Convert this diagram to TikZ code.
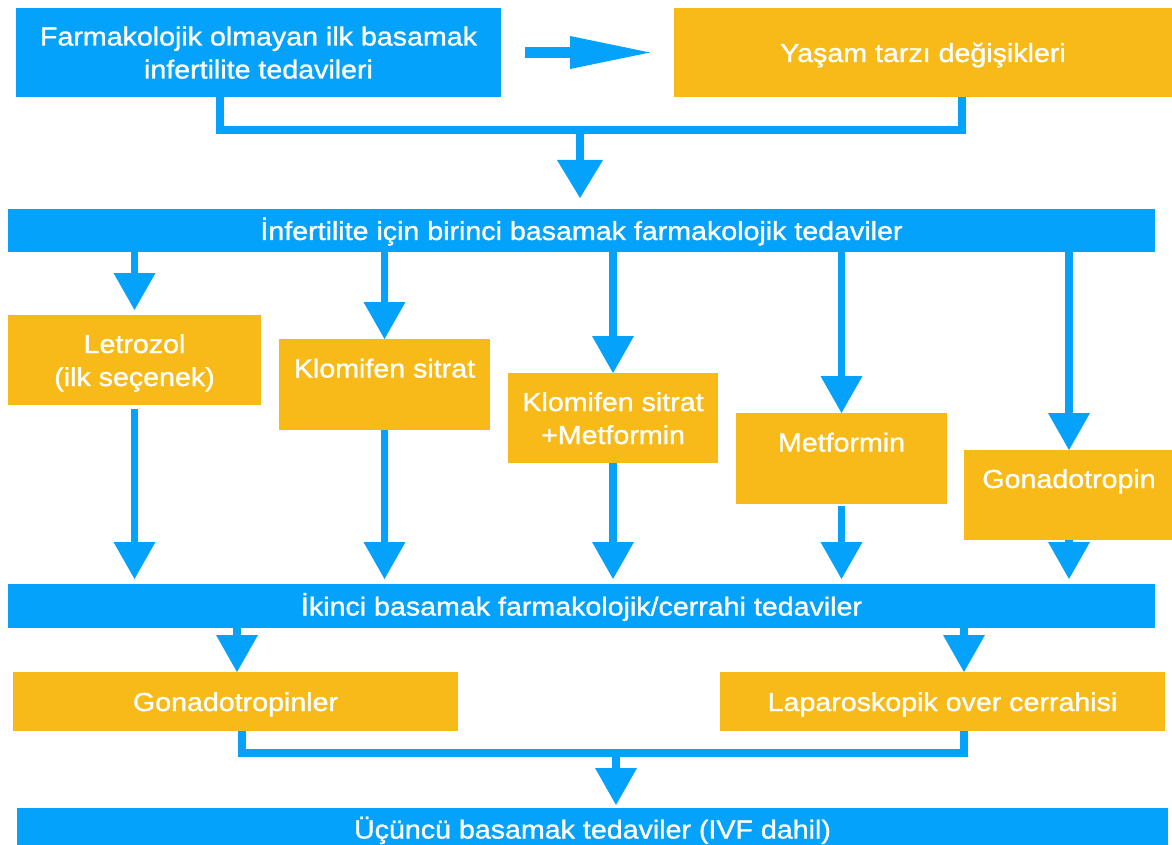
\documentclass[tikz,border=0pt]{standalone}
\usepackage{fontspec}
\setmainfont{Liberation Sans}[FakeStretch=1.1,FakeBold=1.2]
\usetikzlibrary{arrows.meta}
\definecolor{myblue}{RGB}{4,162,250}
\definecolor{myyellow}{RGB}{248,186,24}
\newcommand\mystrut{\rule[-7pt]{0pt}{33pt}}
\begin{document}
\begin{tikzpicture}[x=1pt,y=-1pt,
  box/.style={inner sep=0pt, outer sep=0pt, align=center, text=white, font=\fontsize{26}{33}\selectfont},
  bluebox/.style={box, fill=myblue},
  yellowbox/.style={box, fill=myyellow},
  conn/.style={draw=myblue, line width=7.5pt},
  arr/.style={conn, -{Triangle[width=42pt,length=37pt,line width=0pt]}},
]
\useasboundingbox (0,0) rectangle (1172,845);
\clip (0,0) rectangle (1172,845);
% top row
\node[bluebox, minimum width=485pt, minimum height=89pt] (A) at (258.5,52.5) {\mystrut Farmakolojik olmayan ilk basamak\\\mystrut infertilite tedavileri};
\node[yellowbox, minimum width=498pt, minimum height=89pt] (B) at (923,52.5) {\mystrut Yaşam tarzı değişikleri};
% first-line bar
\node[bluebox, minimum width=1147pt, minimum height=43pt] (bar1) at (581.5,230.5) {\mystrut İnfertilite için birinci basamak farmakolojik tedaviler};
% options
\node[yellowbox, minimum width=253pt, minimum height=90pt] (le) at (134.5,360) {\mystrut Letrozol\\\mystrut (ilk seçenek)};
\node[yellowbox, minimum width=211pt, minimum height=91pt] (ks) at (384.5,384.5) {\mystrut Klomifen sitrat\\\mystrut};
\node[yellowbox, minimum width=210pt, minimum height=90pt] (ksm) at (613,418) {\mystrut Klomifen sitrat\\\mystrut +Metformin};
\node[yellowbox, minimum width=211pt, minimum height=91pt] (met) at (841.5,458.5) {\mystrut Metformin\\\mystrut};
\node[yellowbox, minimum width=210pt, minimum height=90pt] (gon) at (1069,495) {\mystrut Gonadotropin\\\mystrut};
% second-line bar
\node[bluebox, minimum width=1147pt, minimum height=44pt] (bar2) at (581.5,606) {\mystrut İkinci basamak farmakolojik/cerrahi tedaviler};
\node[yellowbox, minimum width=445pt, minimum height=59pt] (gons) at (235.5,701.5) {\mystrut Gonadotropinler};
\node[yellowbox, minimum width=445pt, minimum height=59pt] (lap) at (942.5,701.5) {\mystrut Laparoskopik over cerrahisi};
% third-line bar
\node[bluebox, minimum width=1151pt, minimum height=42pt] (bar3) at (592.5,829) {\mystrut Üçüncü basamak tedaviler (IVF dahil)};
% connectors
\coordinate (xa) at (220,0);
\coordinate (xb) at (962,0);
\coordinate (j1) at (580,130);
\draw[conn, line width=11pt, -{Triangle[width=33pt,length=80pt,line width=0pt]}, shorten <=24pt, shorten >=24pt] (A.east) -- (B.west);
\draw[conn] (A.south -| xa) |- (j1) -| (B.south -| xb);
\draw[conn, -{Triangle[width=46pt,length=38pt,line width=0pt]}, shorten >=11pt] (j1) -- (j1 |- bar1.north);
\draw[arr, shorten >=5pt] (bar1.south -| le.north) -- (le.north);
\draw[arr] (bar1.south -| ks.north) -- (ks.north);
\draw[arr] (bar1.south -| ksm.north) -- (ksm.north);
\draw[arr] (bar1.south -| met.north) -- (met.north);
\draw[arr] (bar1.south -| gon.north) -- (gon.north);
\draw[arr, shorten <=4pt, shorten >=5pt] (le.south) -- (le.south |- bar2.north);
\draw[arr, shorten >=5pt] (ks.south) -- (ks.south |- bar2.north);
\draw[arr, shorten >=5pt] (ksm.south) -- (ksm.south |- bar2.north);
\draw[arr, shorten <=2pt, shorten >=5pt] (met.south) -- (met.south |- bar2.north);
\draw[arr, shorten >=5pt] (gon.south) -- (gon.south |- bar2.north);
\coordinate (xg) at (237,0);
\coordinate (xl) at (964,0);
\coordinate (xg2) at (242,0);
\coordinate (j2) at (616,753);
\draw[arr] (bar2.south -| xg) -- (gons.north -| xg);
\draw[arr] (bar2.south -| xl) -- (lap.north -| xl);
\draw[conn] (gons.south -| xg2) |- (j2) -| (lap.south -| xl);
\draw[arr, shorten >=3pt] (j2) -- (j2 |- bar3.north);
\end{tikzpicture}
\end{document}
